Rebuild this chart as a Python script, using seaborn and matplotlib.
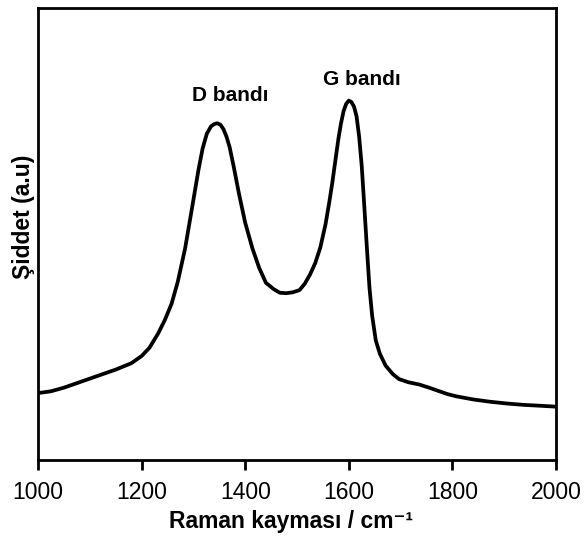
import matplotlib
matplotlib.use("Agg")
import matplotlib.pyplot as plt
import numpy as np
import pandas as pd
import seaborn as sns

# Raman shift (cm-1) and normalised intensity of the spectrum
shift = [1000, 1025, 1050, 1080, 1115, 1150, 1180, 1200, 1215, 1232, 1245,
         1258, 1270, 1284, 1297, 1310, 1318, 1326, 1334, 1340, 1346, 1352,
         1358, 1364, 1370, 1378, 1388, 1400, 1414, 1427, 1440, 1455, 1467,
         1479, 1492, 1505, 1515, 1525, 1535, 1545, 1555, 1562, 1568, 1575,
         1580, 1585, 1590, 1595, 1600, 1605, 1610, 1615, 1620, 1625, 1630,
         1635, 1640, 1645, 1652, 1660, 1671, 1685, 1697, 1715, 1736, 1755,
         1775, 1790, 1807, 1840, 1872, 1905, 1937, 1970, 2000]
intensity = [0.148, 0.152, 0.160, 0.172, 0.186, 0.200, 0.214, 0.230, 0.248,
             0.280, 0.310, 0.346, 0.395, 0.468, 0.555, 0.643, 0.690, 0.722,
             0.738, 0.743, 0.745, 0.742, 0.732, 0.715, 0.692, 0.648, 0.589,
             0.525, 0.468, 0.425, 0.392, 0.378, 0.370, 0.369, 0.371, 0.376,
             0.390, 0.410, 0.435, 0.470, 0.521, 0.568, 0.612, 0.670, 0.711,
             0.745, 0.772, 0.788, 0.795, 0.792, 0.782, 0.760, 0.715, 0.650,
             0.560, 0.468, 0.380, 0.320, 0.265, 0.235, 0.209, 0.190, 0.179,
             0.172, 0.167, 0.160, 0.152, 0.146, 0.141, 0.134, 0.129, 0.125,
             0.122, 0.120, 0.118]

band_names = ["D bandı", "G bandı"]
band_pos = [1371, 1626]
band_height = [0.806, 0.842]

xticks = [1000, 1200, 1400, 1600, 1800, 2000]

df = pd.DataFrame({"shift": shift, "intensity": intensity})

sns.set_theme(style="white")
plt.rcParams["font.family"] = ["Liberation Sans", "DejaVu Sans"]
plt.rcParams["text.color"] = "black"
plt.rcParams["axes.labelcolor"] = "black"
plt.rcParams["xtick.color"] = "black"

fig = plt.figure(figsize=(5.87, 5.41), dpi=100)
ax = fig.add_axes([0.0647, 0.1497, 0.8825, 0.8356])

sns.lineplot(data=df, x="shift", y="intensity", ax=ax, color="black",
             linewidth=2.7, estimator=None, sort=False)

for name, xp, yp in zip(band_names, band_pos, band_height):
    ax.text(xp, yp, name, ha="center", va="center", fontsize=15,
            fontweight="bold", color="black")

ax.set_xlim(1000, 2000)
ax.set_ylim(0, 1)
ax.set_xticks(xticks)
ax.set_xticklabels([str(t) for t in xticks], fontsize=16.5)
ax.set_yticks([])
ax.tick_params(axis="x", direction="out", length=7, width=2, color="black",
               bottom=True, pad=8)

for sp in ax.spines.values():
    sp.set_color("black")
    sp.set_linewidth(2)

ax.set_xlabel("Raman kayması / cm⁻¹", fontsize=16.5, fontweight="bold")
ax.set_ylabel("Şiddet (a.u)", fontsize=16.5, fontweight="bold")
ax.xaxis.set_label_coords(0.488, -0.110)
ax.yaxis.set_label_coords(-0.006, 0.538)

fig.savefig("out.png", dpi=100, facecolor="white")
